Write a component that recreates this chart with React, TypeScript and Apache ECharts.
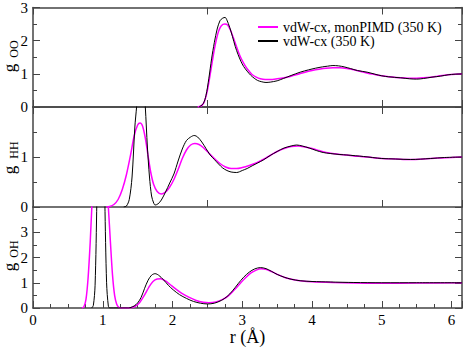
import React, { useEffect, useRef } from "react";
import * as echarts from "echarts";

// ---------- data: [r (Å), g(r)] ----------
const SERIES_PIMD = "vdW-cx, monPIMD (350 K)";
const SERIES_CL = "vdW-cx (350 K)";

const ooPimd: [number, number][] = [
  [2.36, 0], [2.42, 0.04], [2.46, 0.18], [2.5, 0.5], [2.54, 0.98], [2.58, 1.5], [2.62, 1.95],
  [2.66, 2.28], [2.7, 2.45], [2.75, 2.5], [2.79, 2.47], [2.83, 2.32], [2.87, 2.1], [2.91, 1.86],
  [2.95, 1.63], [2.99, 1.44], [3.04, 1.25], [3.09, 1.1], [3.14, 0.98], [3.2, 0.9], [3.26, 0.85],
  [3.33, 0.83], [3.4, 0.83], [3.5, 0.85], [3.6, 0.88], [3.7, 0.93], [3.8, 0.99], [3.9, 1.05],
  [4.0, 1.1], [4.1, 1.14], [4.2, 1.17], [4.3, 1.18], [4.4, 1.18], [4.5, 1.16], [4.6, 1.12],
  [4.7, 1.07], [4.8, 1.02], [4.9, 0.98], [5.0, 0.94], [5.1, 0.91], [5.2, 0.89], [5.3, 0.88],
  [5.4, 0.87], [5.5, 0.87], [5.6, 0.88], [5.7, 0.9], [5.8, 0.93], [5.9, 0.96], [6.0, 0.98], [6.15, 1.0],
];
const ooCl: [number, number][] = [
  [2.38, 0], [2.44, 0.1], [2.48, 0.35], [2.52, 0.85], [2.56, 1.45], [2.6, 1.95], [2.64, 2.35],
  [2.68, 2.6], [2.72, 2.68], [2.755, 2.7], [2.78, 2.62], [2.82, 2.4], [2.86, 2.12], [2.9, 1.82],
  [2.94, 1.58], [2.98, 1.38], [3.02, 1.22], [3.07, 1.08], [3.12, 0.96], [3.17, 0.87], [3.22, 0.8],
  [3.28, 0.76], [3.34, 0.74], [3.4, 0.75], [3.5, 0.79], [3.59, 0.86], [3.7, 0.95], [3.83, 1.05],
  [3.95, 1.12], [4.05, 1.17], [4.15, 1.21], [4.22, 1.23], [4.3, 1.25], [4.38, 1.24], [4.46, 1.21],
  [4.55, 1.16], [4.65, 1.1], [4.79, 1.05], [4.9, 0.99], [5.0, 0.94], [5.1, 0.91], [5.27, 0.88],
  [5.4, 0.85], [5.5, 0.84], [5.6, 0.86], [5.72, 0.9], [5.84, 0.93], [5.95, 0.97], [6.05, 0.99], [6.15, 1.0],
];

const hhPimd: [number, number][] = [
  [1.05, 0], [1.1, 0.01], [1.16, 0.05], [1.22, 0.15], [1.28, 0.35], [1.34, 0.65], [1.4, 1.05],
  [1.45, 1.42], [1.5, 1.64], [1.535, 1.68], [1.57, 1.62], [1.61, 1.38], [1.65, 1.02], [1.69, 0.68],
  [1.73, 0.45], [1.78, 0.31], [1.84, 0.26], [1.9, 0.3], [1.96, 0.4], [2.02, 0.55], [2.08, 0.75],
  [2.14, 0.97], [2.2, 1.14], [2.26, 1.24], [2.32, 1.27], [2.38, 1.25], [2.44, 1.19], [2.52, 1.08],
  [2.6, 0.97], [2.68, 0.87], [2.76, 0.8], [2.84, 0.77], [2.92, 0.77], [3.0, 0.79], [3.1, 0.83],
  [3.2, 0.88], [3.3, 0.95], [3.4, 1.03], [3.5, 1.11], [3.6, 1.17], [3.7, 1.21], [3.8, 1.22],
  [3.9, 1.2], [4.0, 1.17], [4.1, 1.13], [4.2, 1.09], [4.3, 1.07], [4.4, 1.05], [4.5, 1.04],
  [4.6, 1.02], [4.7, 1.01], [4.8, 1.0], [5.0, 0.97], [5.2, 0.96], [5.4, 0.95], [5.6, 0.96],
  [5.8, 0.98], [6.0, 0.99], [6.15, 1.0],
];
const hhCl: [number, number][] = [
  [1.3, 0], [1.34, 0.02], [1.38, 0.15], [1.42, 0.6], [1.46, 1.6], [1.485, 2.0], [1.52, 2.65],
  [1.55, 2.85], [1.58, 2.6], [1.61, 2.0], [1.64, 1.2], [1.67, 0.6], [1.7, 0.22], [1.73, 0.08],
  [1.75, 0.04], [1.79, 0.06], [1.84, 0.14], [1.9, 0.3], [1.96, 0.48], [2.02, 0.66], [2.08, 0.92],
  [2.14, 1.16], [2.2, 1.33], [2.26, 1.4], [2.31, 1.43], [2.36, 1.4], [2.42, 1.3], [2.48, 1.17],
  [2.54, 1.04], [2.6, 0.95], [2.66, 0.86], [2.72, 0.78], [2.78, 0.73], [2.84, 0.7], [2.92, 0.69],
  [3.0, 0.73], [3.07, 0.77], [3.15, 0.83], [3.22, 0.88], [3.3, 0.94], [3.4, 1.03], [3.5, 1.11],
  [3.6, 1.18], [3.7, 1.22], [3.78, 1.24], [3.86, 1.22], [3.96, 1.18], [4.06, 1.13], [4.16, 1.09],
  [4.26, 1.07], [4.4, 1.05], [4.5, 1.04], [4.74, 1.01], [5.0, 0.97], [5.2, 0.96], [5.41, 0.95],
  [5.7, 0.97], [5.9, 0.99], [6.15, 1.0],
];

const ohPimd: [number, number][] = [
  [0.7, 0], [0.73, 0.05], [0.76, 0.35], [0.79, 1.2], [0.82, 2.6], [0.845, 4.1], [0.88, 5.8],
  [0.92, 6.8], [0.96, 7.0], [1.0, 6.6], [1.04, 5.5], [1.08, 4.0], [1.11, 2.6], [1.14, 1.3],
  [1.17, 0.5], [1.2, 0.15], [1.23, 0.03], [1.26, 0], [1.35, 0], [1.4, 0.01], [1.46, 0.06],
  [1.53, 0.22], [1.6, 0.52], [1.66, 0.82], [1.72, 1.05], [1.78, 1.15], [1.83, 1.16], [1.9, 1.07],
  [1.97, 0.92], [2.05, 0.75], [2.14, 0.57], [2.24, 0.42], [2.34, 0.3], [2.44, 0.23], [2.52, 0.21],
  [2.62, 0.24], [2.72, 0.34], [2.8, 0.48], [2.88, 0.7], [2.96, 0.94], [3.04, 1.18], [3.12, 1.38],
  [3.2, 1.5], [3.27, 1.55], [3.35, 1.52], [3.43, 1.43], [3.52, 1.31], [3.62, 1.2], [3.74, 1.12],
  [3.86, 1.07], [4.0, 1.04], [4.3, 1.01], [4.6, 0.99], [5.0, 0.98], [5.5, 0.99], [6.15, 1.0],
];
const ohCl: [number, number][] = [
  [0.84, 0], [0.865, 0.1], [0.89, 0.9], [0.915, 4.2], [0.94, 9.0], [0.97, 12.0], [1.0, 9.0],
  [1.03, 4.2], [1.055, 1.0], [1.08, 0.08], [1.1, 0], [1.35, 0], [1.39, 0.01], [1.45, 0.08],
  [1.5, 0.2], [1.55, 0.42], [1.6, 0.78], [1.65, 1.1], [1.7, 1.3], [1.75, 1.36], [1.8, 1.3],
  [1.87, 1.12], [1.94, 0.9], [2.01, 0.72], [2.1, 0.53], [2.2, 0.38], [2.3, 0.26], [2.4, 0.19],
  [2.5, 0.16], [2.6, 0.19], [2.7, 0.3], [2.78, 0.45], [2.86, 0.68], [2.94, 0.96], [3.02, 1.22],
  [3.1, 1.42], [3.18, 1.55], [3.26, 1.6], [3.34, 1.56], [3.42, 1.45], [3.5, 1.33], [3.6, 1.22],
  [3.7, 1.14], [3.83, 1.08], [4.0, 1.05], [4.26, 1.03], [4.6, 1.01], [5.0, 1.0], [5.5, 1.0], [6.15, 1.0],
];

const xTickLabels = ["0", "1", "2", "3", "4", "5", "6"];
const yRanges = [3, 2, 4];
const yTitles = ["OO", "HH", "OH"];

const FONT = "Liberation Serif";
const AXC = "#444";

export default function App() {
  const ref = useRef<HTMLDivElement>(null);
  useEffect(() => {
    if (!ref.current) return;
    const chart = echarts.init(ref.current, undefined, { renderer: "svg" });
    const X_MAX = 6.15;
    const grids = [
      { left: 33, right: 1, top: 6, height: 101 },
      { left: 33, right: 1, top: 107, height: 100 },
      { left: 33, right: 1, top: 207, height: 101 },
    ];
    const axisLine = { show: true, onZero: false, lineStyle: { color: AXC, width: 1.5 } };
    const baseX = (gi: number, pos: "top" | "bottom", labels: boolean, interval: number) => ({
      type: "value",
      gridIndex: gi,
      position: pos,
      min: 0,
      max: X_MAX,
      interval,
      axisLine,
      axisTick: { show: true, inside: true, length: 7, lineStyle: { color: AXC, width: 1 } },
      minorTick: labels
        ? { show: true, splitNumber: 4, length: 4, lineStyle: { color: AXC, width: 1 } }
        : { show: false },
      axisLabel: labels
        ? {
            show: true,
            margin: 4,
            fontFamily: FONT,
            fontSize: 15,
            color: "#000",
            showMaxLabel: false,
            formatter: (v: number) => xTickLabels[Math.round(v)] ?? "",
          }
        : { show: false },
      splitLine: { show: false },
      name: labels ? "r (Å)" : "",
      nameLocation: "middle",
      nameGap: 19,
      nameTextStyle: { fontFamily: FONT, fontSize: 18, color: "#000" },
    });
    const baseY = (gi: number, pos: "left" | "right") => ({
      type: "value",
      gridIndex: gi,
      position: pos,
      min: 0,
      max: yRanges[gi],
      interval: 1,
      axisLine,
      axisTick: { show: true, inside: true, length: 7, lineStyle: { color: AXC, width: 1 } },
      minorTick: { show: true, splitNumber: 2, length: 4, lineStyle: { color: AXC, width: 1 } },
      axisLabel:
        pos === "left"
          ? {
              show: true,
              margin: 5,
              fontFamily: FONT,
              fontSize: 15,
              color: "#000",
              showMaxLabel: gi === 0,
            }
          : { show: false },
      splitLine: { show: false },
    });
    const xAxis = [
      baseX(0, "bottom", false, 2.5),
      baseX(1, "bottom", false, 2.5),
      baseX(2, "bottom", true, 1),
      baseX(0, "top", false, 2.5),
      baseX(1, "top", false, 2.5),
    ];
    const yAxis = [
      baseY(0, "left"),
      baseY(1, "left"),
      baseY(2, "left"),
      baseY(0, "right"),
      baseY(1, "right"),
      baseY(2, "right"),
    ];
    const mk = (name: string, data: [number, number][], gi: number, pink: boolean) => ({
      type: "line",
      name,
      xAxisIndex: gi,
      yAxisIndex: gi,
      data,
      showSymbol: false,
      symbol: "none",
      smooth: 0.3,
      clip: true,
      lineStyle: { color: pink ? "#ff00ff" : "#000", width: pink ? 1.5 : 1 },
      itemStyle: { color: pink ? "#ff00ff" : "#000" },
      z: pink ? 2 : 3,
    });
    const series = [
      mk(SERIES_PIMD, ooPimd, 0, true),
      mk(SERIES_CL, ooCl, 0, false),
      mk(SERIES_PIMD, hhPimd, 1, true),
      mk(SERIES_CL, hhCl, 1, false),
      mk(SERIES_PIMD, ohPimd, 2, true),
      mk(SERIES_CL, ohCl, 2, false),
    ];
    const titleY = [
      { g: 68, s: 49 },
      { g: 170, s: 150 },
      { g: 267, s: 249 },
    ];
    const graphic: any[] = [];
    titleY.forEach((t, i) => {
      graphic.push({
        type: "text",
        x: 9,
        y: t.g,
        rotation: Math.PI / 2,
        style: {
          text: "g",
          fontFamily: FONT,
          fontSize: 17,
          fill: "#000",
          textAlign: "center",
          textVerticalAlign: "middle",
        },
      });
      graphic.push({
        type: "text",
        x: 14,
        y: t.s,
        rotation: Math.PI / 2,
        style: {
          text: yTitles[i],
          fontFamily: FONT,
          fontSize: 12,
          fill: "#000",
          textAlign: "center",
          textVerticalAlign: "middle",
        },
      });
    });
    chart.setOption({
      animation: false,
      grid: grids,
      xAxis,
      yAxis,
      series,
      graphic,
      legend: {
        show: true,
        orient: "vertical",
        left: 253,
        top: 15,
        itemWidth: 20,
        itemHeight: 2,
        itemGap: 0,
        icon: "rect",
        data: [SERIES_PIMD, SERIES_CL],
        textStyle: { fontFamily: FONT, fontSize: 14, color: "#000", lineHeight: 14 },
      },
    });
    return () => chart.dispose();
  }, []);
  return <div ref={ref} style={{ width: 463, height: 350, position: "absolute", left: 0, top: 0, background: "#fff" }} />;
}
